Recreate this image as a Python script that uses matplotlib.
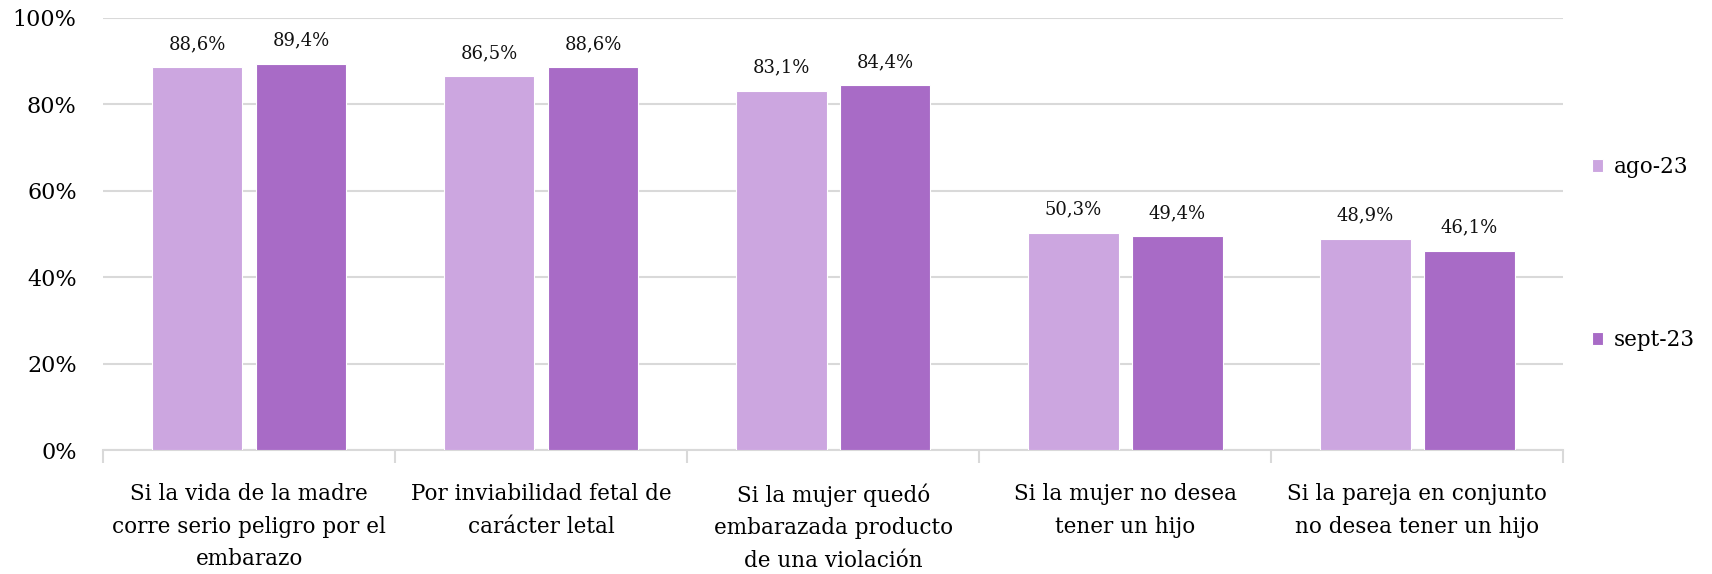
import numpy as np
import matplotlib.pyplot as plt
from matplotlib.ticker import FuncFormatter

# datos
categorias = [
    "Si la vida de la madre\ncorre serio peligro por el\nembarazo",
    "Por inviabilidad fetal de\ncarácter letal",
    "Si la mujer quedó\nembarazada producto\nde una violación",
    "Si la mujer no desea\ntener un hijo",
    "Si la pareja en conjunto\nno desea tener un hijo",
]
series = ["ago-23", "sept-23"]
ago_23 = [88.6, 86.5, 83.1, 50.3, 48.9]
sept_23 = [89.4, 88.6, 84.4, 49.4, 46.1]
colores = ["#cca6e0", "#a86bc6"]

plt.rcParams['font.family'] = ['DejaVu Serif']

fig = plt.figure(figsize=(17.12, 5.74), dpi=100)
ax = fig.add_axes([0.0602, 0.216, 0.853, 0.753])

x = np.arange(len(categorias))
ancho = 0.31
desp = 0.178

for i, (nombre, vals) in enumerate(zip(series, [ago_23, sept_23])):
    pos = x + (-desp if i == 0 else desp)
    barras = ax.bar(pos, vals, width=ancho, color=colores[i], edgecolor='white',
                    linewidth=0.8, label=nombre, zorder=3)
    for b, v in zip(barras, vals):
        ax.annotate(f"{v:.1f}%".replace('.', ','),
                    (b.get_x() + b.get_width() / 2, v),
                    xytext=(0, 13), textcoords='offset points',
                    ha='center', va='baseline', fontsize=13, color='#111111')

ax.set_ylim(0, 100)
ax.set_xlim(-0.5, len(categorias) - 0.5)
ax.set_yticks(range(0, 101, 20))
ax.yaxis.set_major_formatter(FuncFormatter(lambda v, p: f"{v:.0f}%"))
ax.tick_params(axis='y', length=0, labelsize=16, pad=19)
ax.grid(axis='y', color='#d9d9d9', linewidth=1.5, zorder=0)

# etiquetas de categoria
ax.set_xticks(x)
ax.set_xticklabels(categorias, fontsize=15.5, linespacing=1.62)
ax.tick_params(axis='x', length=0, pad=24)
ax.set_xticks(np.arange(-0.5, len(categorias)), minor=True)
ax.tick_params(axis='x', which='minor', length=9, width=1.5, color='#d9d9d9')

for lado in ['top', 'right', 'left']:
    ax.spines[lado].set_visible(False)
ax.spines['bottom'].set_color('#d9d9d9')
ax.spines['bottom'].set_linewidth(1.5)

ax.legend(loc='upper left', bbox_to_anchor=(1.006, 0.725), frameon=False,
          fontsize=15.5, labelspacing=7.0, handlelength=0.55, handleheight=0.55,
          handletextpad=0.5)

plt.savefig('out.png', dpi=100)
